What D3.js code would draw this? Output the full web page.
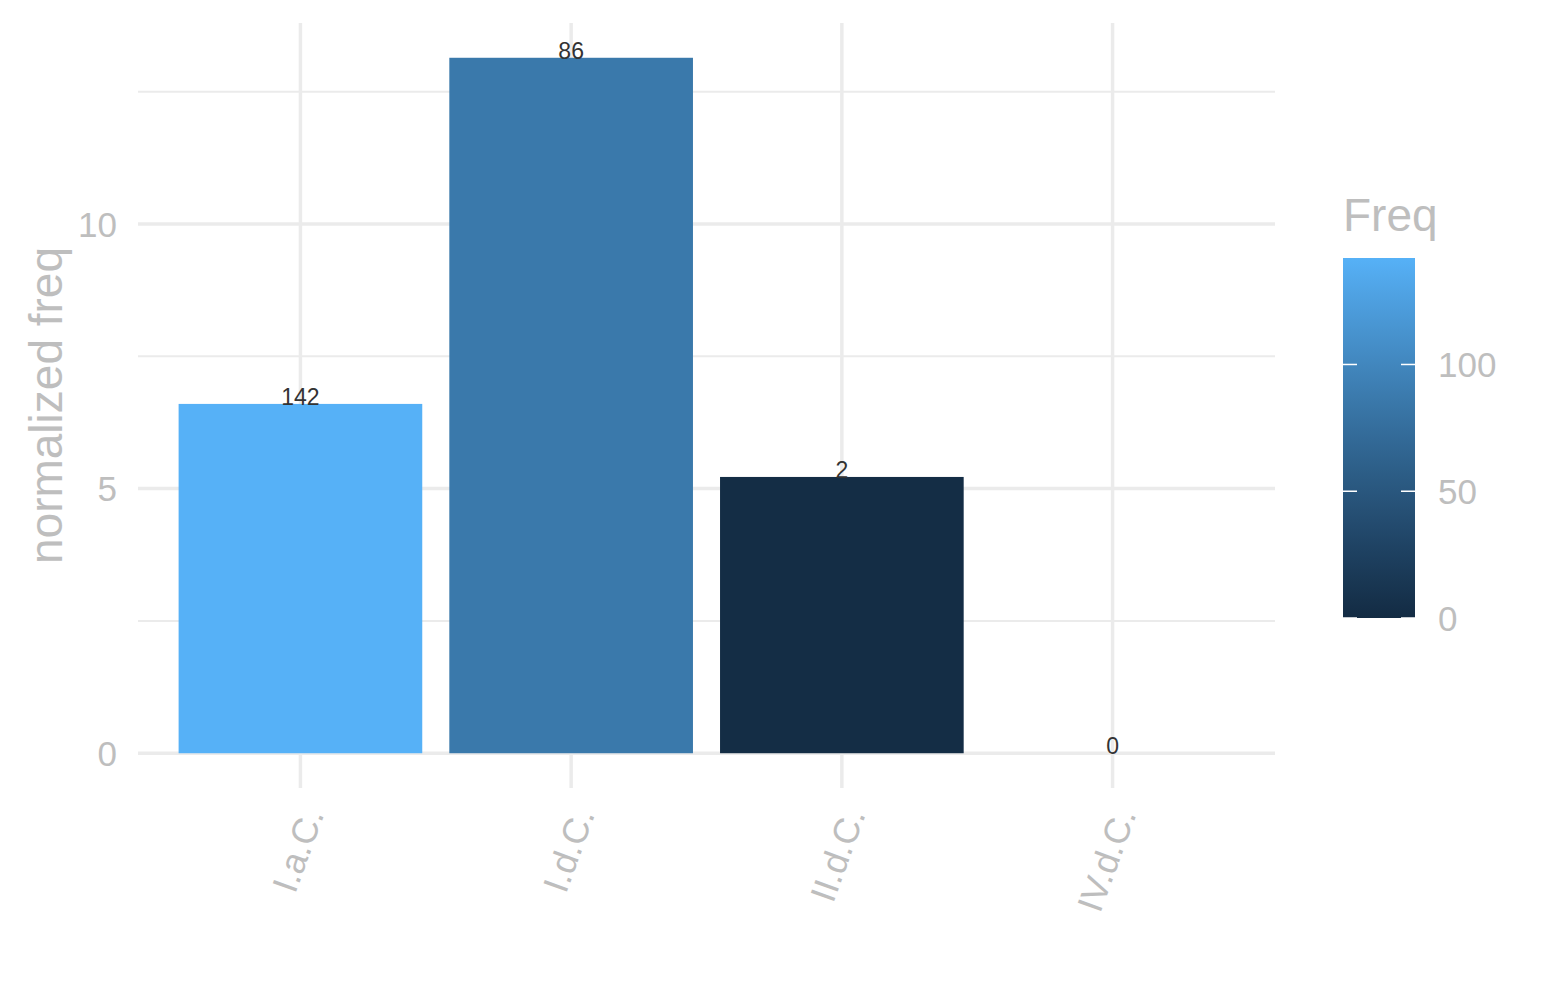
<!DOCTYPE html>
<html lang="en">
<head>
<meta charset="UTF-8">
<title>normalized freq</title>
<style>
  body { margin: 0; padding: 0; background: #fff; }
  text { font-family: "Liberation Sans", Arial, Helvetica, sans-serif; }
</style>
</head>
<body>
<script src="https://d3js.org/d3.v7.min.js"></script>
<script>
  // data
  const categories = ["I.a.C.", "I.d.C.", "II.d.C.", "IV.d.C."];
  const normFreq = [6.6, 13.14, 5.22, 0];
  const freq = [142, 86, 2, 0];
  const yTicks = [0, 5, 10];
  const yMinor = [2.5, 7.5, 12.5];
  const legendTicks = [0, 50, 100];

  const W = 1545, H = 1000;
  const panel = { left: 138, right: 1275, top: 23, bottom: 788 };

  const svg = d3.select("body").append("svg")
    .attr("width", W).attr("height", H);

  // scales
  const x = d3.scalePoint().domain(categories)
    .range([panel.left, panel.right]).padding(0.6);
  const yMax = d3.max(normFreq);
  const pad = yMax * 0.05;
  const y = d3.scaleLinear().domain([-pad, yMax + pad])
    .range([panel.bottom, panel.top]);
  const fMax = d3.max(freq);
  const color = d3.scaleLinear().domain([0, fMax])
    .range(["#132B43", "#56B1F7"]).interpolate(d3.interpolateLab);

  const grid = svg.append("g");
  // minor grid
  grid.selectAll("line.minor").data(yMinor).join("line")
    .attr("x1", panel.left).attr("x2", panel.right)
    .attr("y1", d => y(d)).attr("y2", d => y(d))
    .attr("stroke", "#ebebeb").attr("stroke-width", 2);
  // major grid
  grid.selectAll("line.major").data(yTicks).join("line")
    .attr("x1", panel.left).attr("x2", panel.right)
    .attr("y1", d => y(d)).attr("y2", d => y(d))
    .attr("stroke", "#ebebeb").attr("stroke-width", 3.5);
  grid.selectAll("line.vert").data(categories).join("line")
    .attr("x1", d => x(d)).attr("x2", d => x(d))
    .attr("y1", panel.top).attr("y2", panel.bottom)
    .attr("stroke", "#ebebeb").attr("stroke-width", 3.5);

  // bars
  const bw = x.step() * 0.9;
  const rows = categories.map((c, i) => ({ c, v: normFreq[i], f: freq[i] }));
  svg.append("g").selectAll("rect").data(rows).join("rect")
    .attr("x", d => x(d.c) - bw / 2)
    .attr("width", bw)
    .attr("y", d => y(d.v))
    .attr("height", d => y(0) - y(d.v))
    .attr("fill", d => color(d.f));

  // value labels
  svg.append("g").selectAll("text").data(rows).join("text")
    .attr("x", d => x(d.c))
    .attr("y", d => y(d.v) + 1)
    .attr("text-anchor", "middle")
    .attr("font-size", 23)
    .attr("fill", "#333")
    .text(d => d.f);

  // y axis labels
  svg.append("g").selectAll("text").data(yTicks).join("text")
    .attr("x", 117)
    .attr("y", d => y(d))
    .attr("dy", "0.36em")
    .attr("text-anchor", "end")
    .attr("font-size", 35)
    .attr("fill", "#bebebe")
    .text(d => d);

  svg.append("text")
    .attr("transform", `translate(62,${(panel.top + panel.bottom) / 2}) rotate(-90)`)
    .attr("text-anchor", "middle")
    .attr("font-size", 46)
    .attr("fill", "#bebebe")
    .text("normalized freq");

  // x axis labels
  svg.append("g").selectAll("text").data(categories).join("text")
    .attr("transform", d => `translate(${x(d) + 24},${814}) rotate(-70)`)
    .attr("text-anchor", "end")
    .attr("font-size", 36)
    .attr("fill", "#bebebe")
    .text(d => d);

  // legend
  const lg = { x: 1343, w: 72, top: 258, bottom: 618 };
  const ly = d3.scaleLinear().domain([0, fMax]).range([lg.bottom, lg.top]);
  const grad = svg.append("defs").append("linearGradient")
    .attr("id", "freqGrad").attr("x1", 0).attr("y1", 1).attr("x2", 0).attr("y2", 0);
  grad.selectAll("stop").data(d3.range(0, 1.0001, 0.1)).join("stop")
    .attr("offset", d => d)
    .attr("stop-color", d => color(d * fMax));

  svg.append("text")
    .attr("x", lg.x).attr("y", 231)
    .attr("font-size", 46)
    .attr("fill", "#bebebe")
    .text("Freq");

  svg.append("rect")
    .attr("x", lg.x).attr("y", lg.top)
    .attr("width", lg.w).attr("height", lg.bottom - lg.top)
    .attr("fill", "url(#freqGrad)");

  const lt = svg.append("g");
  lt.selectAll("line.l").data(legendTicks).join("line")
    .attr("x1", lg.x).attr("x2", lg.x + 14)
    .attr("y1", d => ly(d)).attr("y2", d => ly(d))
    .attr("stroke", "#fff").attr("stroke-width", 1.5);
  lt.selectAll("line.r").data(legendTicks).join("line")
    .attr("x1", lg.x + lg.w - 14).attr("x2", lg.x + lg.w)
    .attr("y1", d => ly(d)).attr("y2", d => ly(d))
    .attr("stroke", "#fff").attr("stroke-width", 1.5);
  lt.selectAll("text").data(legendTicks).join("text")
    .attr("x", 1438)
    .attr("y", d => ly(d))
    .attr("dy", "0.36em")
    .attr("font-size", 35)
    .attr("fill", "#bebebe")
    .text(d => d);
</script>
</body>
</html>
